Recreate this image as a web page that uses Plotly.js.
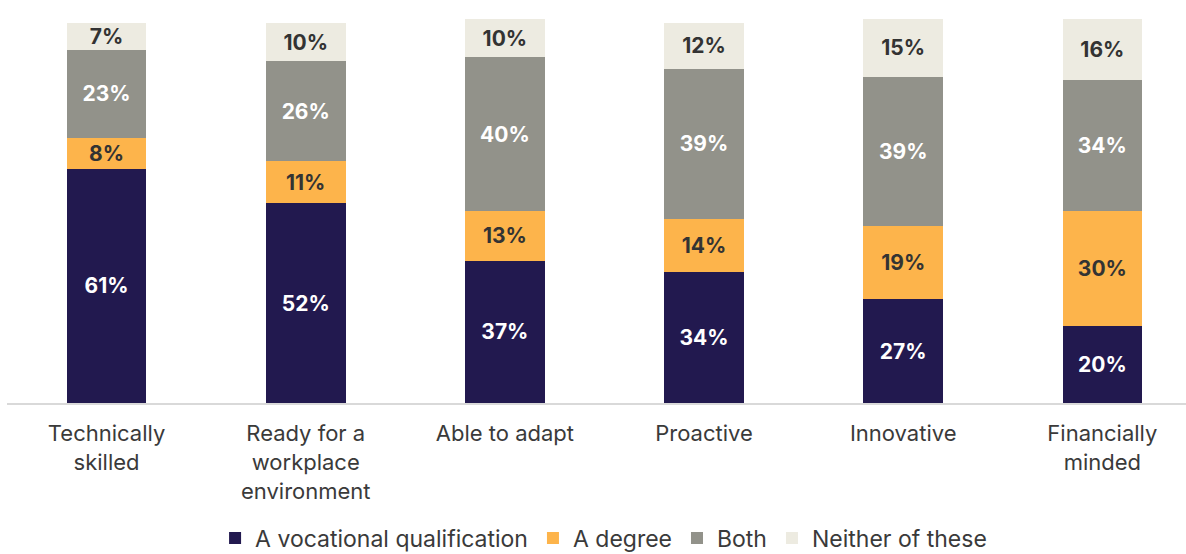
<!DOCTYPE html>
<html>
<head>
<meta charset="utf-8">
<script src="https://cdn.plot.ly/plotly-3.0.1.min.js"></script>
<style>html,body{margin:0;padding:0;background:#fff;}#chart{width:1186px;height:554px;}</style>
</head>
<body>
<div id="chart"></div>
<script>
const categories = ["Technically<br>skilled", "Ready for a<br>workplace<br>environment", "Able to adapt", "Proactive", "Innovative", "Financially<br>minded"];
const vocational = [61, 52, 37, 34, 27, 20];
const degree = [8, 11, 13, 14, 19, 30];
const both = [23, 26, 40, 39, 39, 34];
const neither = [7, 10, 10, 12, 15, 16];
const seriesNames = ["A vocational qualification", "A degree", "Both", "Neither of these"];

const colors = ["#22194F", "#FDB44B", "#92928A", "#EDEBE1"];
const textColors = ["#ffffff", "#333333", "#ffffff", "#333333"];
const series = [vocational, degree, both, neither];

const traces = series.map((vals, i) => ({
  type: "bar",
  name: seriesNames[i],
  x: categories,
  y: vals,
  width: 0.4,
  marker: {color: colors[i], line: {width: 0}},
  text: vals.map(v => v + "%"),
  texttemplate: "<b>%{text}</b>",
  textposition: "inside",
  insidetextanchor: "middle",
  textangle: 0,
  constraintext: "none",
  textfont: {family: "Inter, Roboto, sans-serif", size: 21, color: textColors[i]},
  hoverinfo: "skip"
}));

const layout = {
  width: 1186,
  height: 554,
  barmode: "stack",
  margin: {l: 7, r: 0, t: 19, b: 151, autoexpand: false},
  paper_bgcolor: "#ffffff",
  plot_bgcolor: "#ffffff",
  font: {family: "Inter, Roboto, sans-serif", color: "#3a3a3a"},
  xaxis: {
    type: "category",
    range: [-0.5, 5.42],
    showline: true,
    linecolor: "#d9d9d9",
    linewidth: 2,
    showgrid: false,
    zeroline: false,
    ticks: "",
    ticklabelstandoff: 10,
    tickfont: {size: 22, color: "#3a3a3a"},
    fixedrange: true
  },
  yaxis: {
    range: [0, 100],
    visible: false,
    showgrid: false,
    zeroline: false,
    fixedrange: true
  },
  showlegend: true,
  legend: {
    orientation: "h",
    x: 0.506,
    xanchor: "center",
    y: -0.352,
    yanchor: "middle",
    font: {size: 23, color: "#3a3a3a"},
    traceorder: "normal",
    itemwidth: 30
  },
  uniformtext: {mode: "show", minsize: 21}
};

Plotly.newPlot("chart", traces, layout, {displayModeBar: false, staticPlot: true});
</script>
</body>
</html>
